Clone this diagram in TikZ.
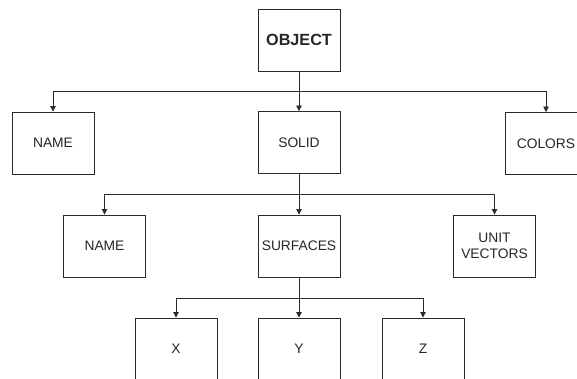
\documentclass[tikz,border=0pt]{standalone}
\usepackage{fontspec}
\setmainfont{Liberation Sans}
\usetikzlibrary{arrows.meta}
\definecolor{linec}{HTML}{2A2A2A}
\definecolor{textc}{HTML}{262626}
\tikzset{
  box/.style={draw=linec, line width=0.9pt, minimum width=82pt, minimum height=62pt,
    inner sep=0pt, align=center, text=textc, font=\fontsize{13.8}{15.5}\selectfont},
  conn/.style={draw=linec, line width=0.9pt, -{Triangle[width=5.5pt,length=5.5pt]}}
}
\begin{document}
\begin{tikzpicture}[x=1pt,y=-1pt]
\clip (0,0) rectangle (577,379);
\fill[white] (0,0) rectangle (577,379);
% level 0
\node[box, font=\fontsize{16.2}{18}\selectfont\bfseries] (obj) at (299,40) {OBJECT};
% level 1
\node[box] (name1) at (53,143) {NAME};
\node[box] (solid) at (299,142.5) {SOLID};
\node[box] (colors) at (546,143.5) {COLORS};
% level 2
\node[box] (name2) at (104.5,246) {NAME};
\node[box] (surf) at (299,246) {SURFACES};
\node[box] (unit) at (494.5,246) {UNIT\\VECTORS};
% level 3
\node[box] (x) at (176,349) {X};
\node[box] (y) at (299,349) {Y};
\node[box] (z) at (423,349) {Z};
% junctions
\coordinate (j1) at (299,91);
\coordinate (j2) at (299,194);
\coordinate (j3) at (299,298);
% connectors level 0 -> 1
\draw[conn] (obj.south) -- (solid.north);
\draw[conn] (j1) -| (name1.north);
\draw[conn] (j1) -| (colors.north);
% level 1 -> 2
\draw[conn] (solid.south) -- (surf.north);
\draw[conn] (j2) -| (name2.north);
\draw[conn] (j2) -| (unit.north);
% level 2 -> 3
\draw[conn] (surf.south) -- (y.north);
\draw[conn] (j3) -| (x.north);
\draw[conn] (j3) -| (z.north);
\end{tikzpicture}
\end{document}
